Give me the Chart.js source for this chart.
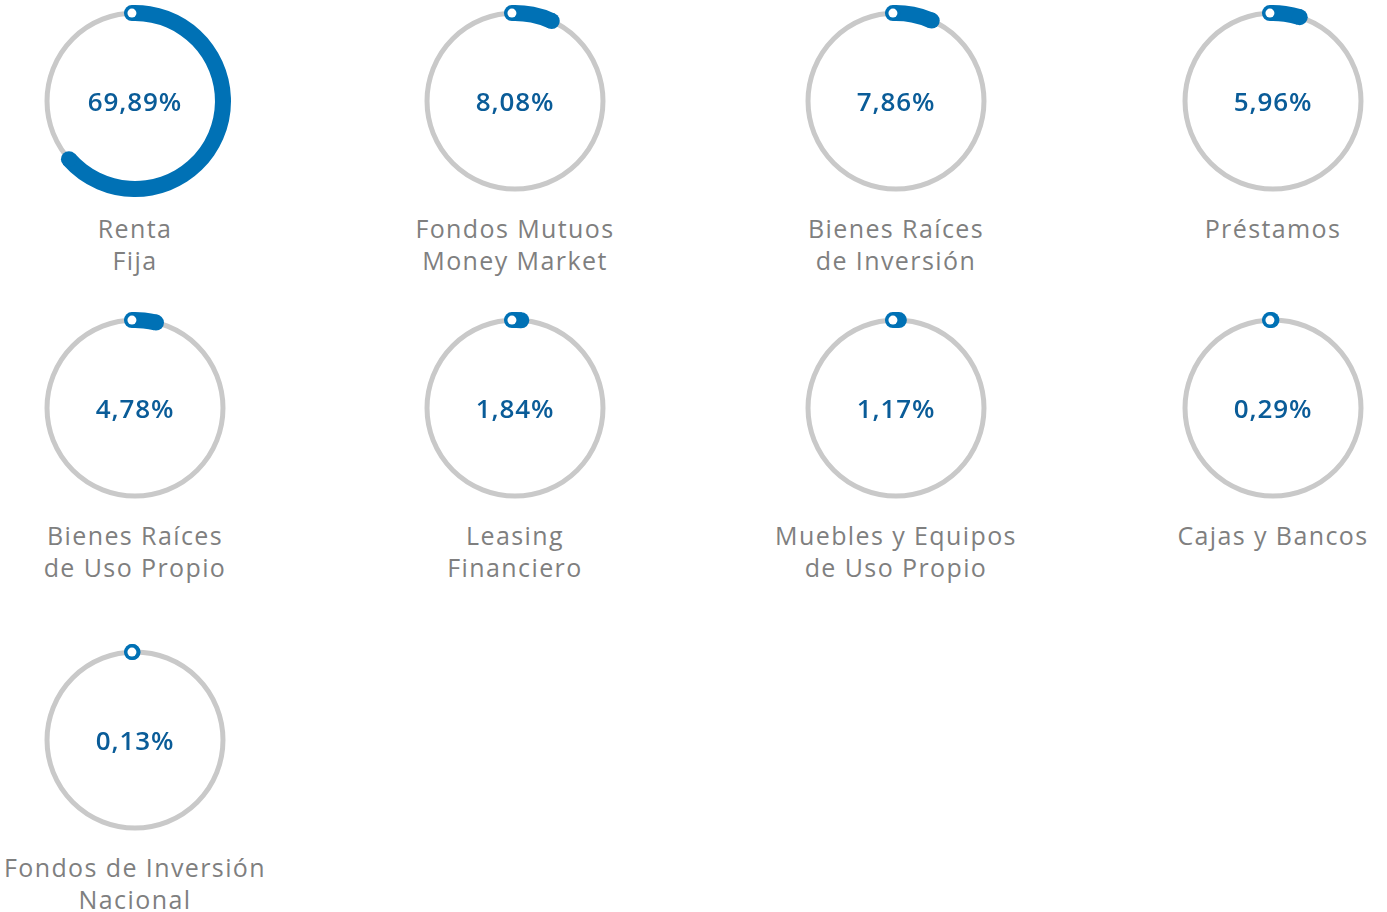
<!DOCTYPE html>
<html>
<head>
<meta charset="utf-8">
<script src="https://cdn.jsdelivr.net/npm/chart.js@4.4.0/dist/chart.umd.min.js"></script>
<style>
  html, body { margin: 0; padding: 0; background: #fff; }
  body { width: 1387px; height: 912px; position: relative; overflow: hidden; font-family: "Open Sans", sans-serif; }
  .gauge { position: absolute; width: 200px; height: 200px; }
  .label {
    position: absolute; width: 340px; text-align: center;
    font-size: 25px; line-height: 32px; color: #7f7f7f; letter-spacing: 1.4px;
  }
</style>
</head>
<body>
<script>
// data
const categories = [
  ["Renta", "Fija"],
  ["Fondos Mutuos", "Money Market"],
  ["Bienes Raíces", "de Inversión"],
  ["Préstamos"],
  ["Bienes Raíces", "de Uso Propio"],
  ["Leasing", "Financiero"],
  ["Muebles y Equipos", "de Uso Propio"],
  ["Cajas y Bancos"],
  ["Fondos de Inversión", "Nacional"],
];
const percentages = [69.89, 8.08, 7.86, 5.96, 4.78, 1.84, 1.17, 0.29, 0.13];

// layout of the grid (gauge centres)
const columnCenters = [135, 515, 896, 1273];
const rowCenters = [101, 408, 740];
const labelOffset = 111; // from gauge centre to top of first label line
const SIZE = 200;

const BLUE = "#0071b5";
const TEXT_BLUE = "#0a5c98";
const TRACK = "#c9c9c9";

function formatPercent(v) {
  return v.toFixed(2).replace(".", ",") + "%";
}

// gray track under the arc, round caps + white dot on top, value in the middle
const gaugePlugin = {
  id: "gaugePlugin",
  beforeDatasetsDraw(chart) {
    const arc = chart.getDatasetMeta(0).data[0];
    const { x, y, innerRadius, outerRadius } = arc.getProps(["x", "y", "innerRadius", "outerRadius"], true);
    const ctx = chart.ctx;
    ctx.save();
    ctx.beginPath();
    ctx.arc(x, y, (innerRadius + outerRadius) / 2, 0, Math.PI * 2);
    ctx.strokeStyle = TRACK;
    ctx.lineWidth = 5;
    ctx.stroke();
    ctx.restore();
  },
  afterDatasetsDraw(chart) {
    const arc = chart.getDatasetMeta(0).data[0];
    const { x, y, startAngle, endAngle, innerRadius, outerRadius } =
      arc.getProps(["x", "y", "startAngle", "endAngle", "innerRadius", "outerRadius"], true);
    const mid = (innerRadius + outerRadius) / 2;
    const capR = (outerRadius - innerRadius) / 2;
    const ctx = chart.ctx;
    ctx.save();
    ctx.fillStyle = BLUE;
    [startAngle, endAngle].forEach((a) => {
      ctx.beginPath();
      ctx.arc(x + Math.cos(a) * mid, y + Math.sin(a) * mid, capR, 0, Math.PI * 2);
      ctx.fill();
    });
    // white dot at the start
    ctx.beginPath();
    ctx.fillStyle = "#fff";
    ctx.arc(x + Math.cos(startAngle) * mid, y + Math.sin(startAngle) * mid, 4.5, 0, Math.PI * 2);
    ctx.fill();
    // value text
    const value = chart.data.datasets[0].data[0];
    ctx.fillStyle = TEXT_BLUE;
    ctx.font = '600 26px "Open Sans"';
    ctx.letterSpacing = "0.9px";
    ctx.textAlign = "center";
    ctx.textBaseline = "middle";
    ctx.fillText(formatPercent(value), x, y + 3);
    ctx.restore();
  },
};

percentages.forEach((value, i) => {
  const cx = columnCenters[i % 4];
  const cy = rowCenters[Math.floor(i / 4)];

  const box = document.createElement("div");
  box.className = "gauge";
  box.style.left = cx - SIZE / 2 + "px";
  box.style.top = cy - SIZE / 2 + "px";
  const canvas = document.createElement("canvas");
  canvas.width = SIZE;
  canvas.height = SIZE;
  box.appendChild(canvas);
  document.body.appendChild(box);

  new Chart(canvas, {
    type: "doughnut",
    data: {
      labels: [categories[i].join(" "), ""],
      datasets: [
        {
          data: [value, 100 - value],
          backgroundColor: [BLUE, "rgba(0,0,0,0)"],
          borderWidth: 0,
          hoverBorderWidth: 0,
          hoverOffset: 0,
        },
      ],
    },
    options: {
      responsive: false,
      animation: false,
      radius: 96,
      cutout: "83.3%",
      rotation: -2,
      circumference: 330,
      layout: { padding: 0 },
      plugins: { legend: { display: false }, tooltip: { enabled: false } },
    },
    plugins: [gaugePlugin],
  });

  const label = document.createElement("div");
  label.className = "label";
  label.style.left = cx - 170 + "px";
  label.style.top = cy + labelOffset + "px";
  label.innerHTML = categories[i].join("<br>");
  document.body.appendChild(label);
});
</script>
</body>
</html>
